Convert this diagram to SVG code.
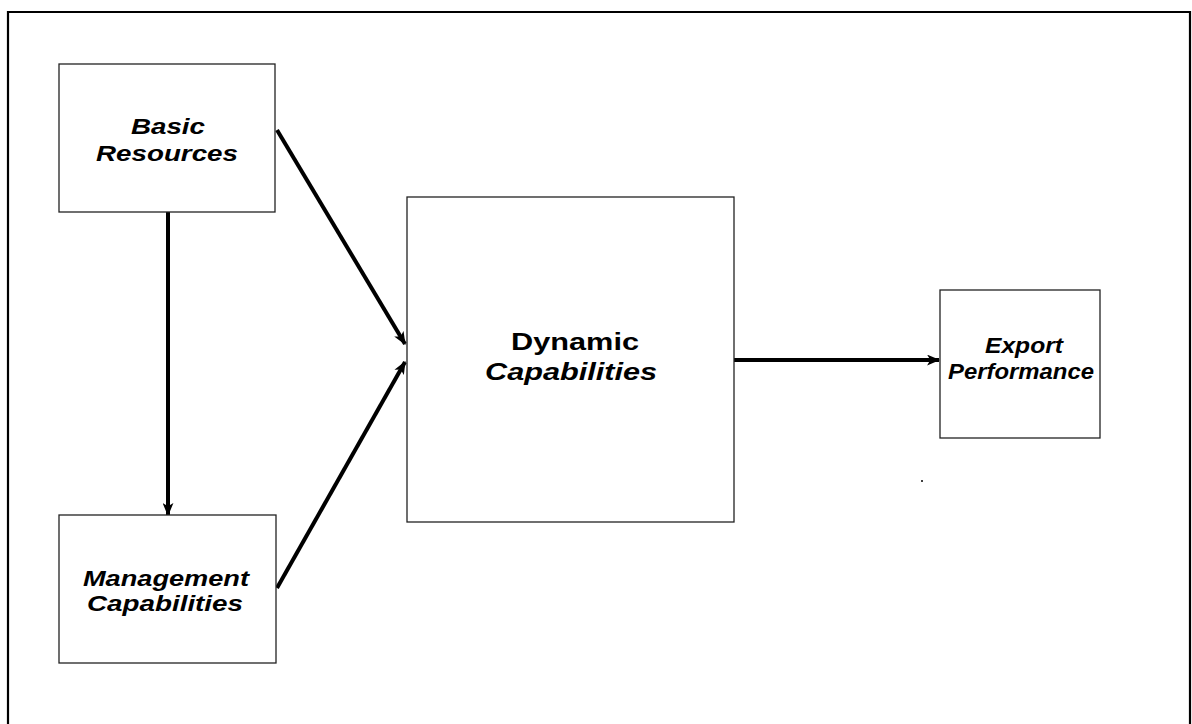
<svg xmlns="http://www.w3.org/2000/svg" width="1192" height="724" viewBox="0 0 1192 724">
<defs>
<style>
.box{fill:#fff;stroke:#222;stroke-width:1.3}
.t{font-family:"Liberation Sans",Arial,sans-serif;font-weight:bold;font-style:italic;font-size:22px;fill:#000;text-anchor:middle}
.big{font-size:24.5px}
.up{font-style:normal}
.c{fill:none;stroke:#000;stroke-width:4}
</style>
<marker id="ah" viewBox="0 0 12 10" refX="11" refY="5" markerWidth="13" markerHeight="11" markerUnits="userSpaceOnUse" orient="auto">
<path d="M0,0 L12,5 L0,10 L3,5 z" fill="#000"/>
</marker>
</defs>
<rect x="0" y="0" width="1192" height="724" fill="#fff"/>
<path d="M8,724 V12 H1190 V724" fill="none" stroke="#000" stroke-width="2.2"/>
<g id="connectors">
<line class="c" x1="168" y1="212" x2="168" y2="515" marker-end="url(#ah)"/>
<line class="c" x1="277" y1="130" x2="405" y2="344" marker-end="url(#ah)"/>
<line class="c" x1="277" y1="588" x2="405" y2="362" marker-end="url(#ah)"/>
<line class="c" stroke-width="3.5" x1="734" y1="360" x2="939" y2="360" marker-end="url(#ah)"/>
</g>
<g id="basic-resources">
<rect class="box" x="59" y="64" width="216" height="148"/>
<text class="t" x="168" y="134" textLength="74" lengthAdjust="spacingAndGlyphs">Basic</text>
<text class="t" x="167" y="161" textLength="142" lengthAdjust="spacingAndGlyphs">Resources</text>
</g>
<g id="management-capabilities">
<rect class="box" x="59" y="515" width="217" height="148"/>
<text class="t" x="166" y="586" textLength="166" lengthAdjust="spacingAndGlyphs">Management</text>
<text class="t" x="165" y="611" textLength="156" lengthAdjust="spacingAndGlyphs">Capabilities</text>
</g>
<g id="dynamic-capabilities">
<rect class="box" x="407" y="197" width="327" height="325"/>
<text class="t big up" x="575" y="350" textLength="128" lengthAdjust="spacingAndGlyphs">Dynamic</text>
<text class="t big" x="571" y="380" textLength="172" lengthAdjust="spacingAndGlyphs">Capabilities</text>
</g>
<g id="export-performance">
<rect class="box" x="940" y="290" width="160" height="148"/>
<text class="t" x="1024" y="353" textLength="78" lengthAdjust="spacingAndGlyphs">Export</text>
<text class="t" x="1021" y="379" textLength="146" lengthAdjust="spacingAndGlyphs">Performance</text>
</g>
<circle cx="922" cy="481" r="1" fill="#000"/>
</svg>
